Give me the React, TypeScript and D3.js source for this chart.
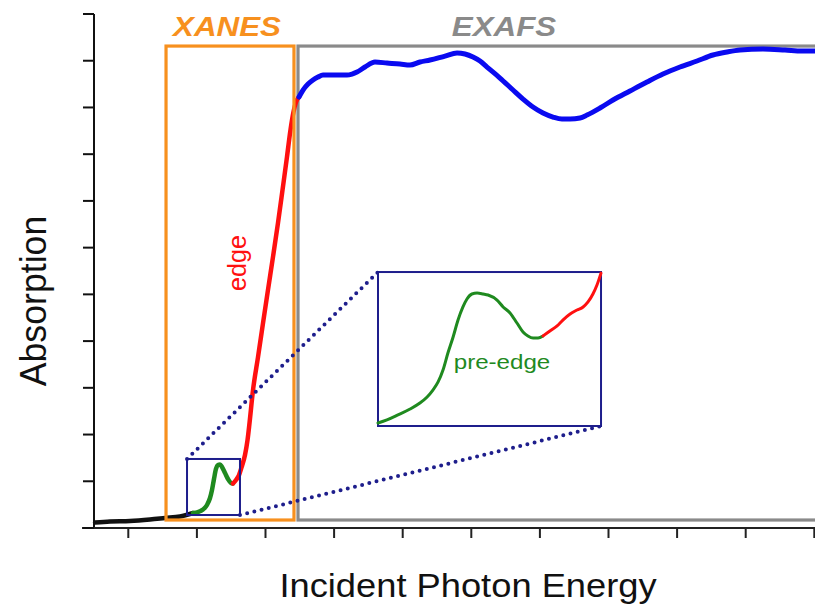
import React from "react";
import * as d3 from "d3";

// ---------- data (arbitrary units) ----------
const xTicks = [0.5, 1.5, 2.5, 3.5, 4.5, 5.5, 6.5, 7.5, 8.5, 9.5, 10.5];
const yTicks = [0, 1, 2, 3, 4, 5, 6, 7, 8, 9, 10, 11];

// pre-edge baseline (black)
const baseX = [0.015, 0.233, 0.525, 0.816, 1.035, 1.254, 1.443];
const baseY = [0.118, 0.139, 0.15, 0.182, 0.214, 0.246, 0.321];

// pre-edge peak (green)
const preX = [1.443, 1.516, 1.589, 1.647, 1.691, 1.72, 1.749, 1.778, 1.808, 1.837, 1.866, 1.91, 1.953, 1.997, 2.026];
const preY = [0.321, 0.342, 0.396, 0.492, 0.642, 0.813, 1.049, 1.263, 1.348, 1.359, 1.305, 1.177, 1.049, 0.963, 0.952];

// absorption edge (red)
const edgeX = [2.026, 2.07, 2.114, 2.157, 2.201, 2.238, 2.267, 2.318, 2.391, 2.464, 2.536, 2.609, 2.682, 2.748, 2.813, 2.864, 2.908, 2.945, 2.988];
const edgeY = [0.952, 1.027, 1.134, 1.327, 1.562, 1.883, 2.247, 2.953, 3.659, 4.387, 5.093, 5.799, 6.527, 7.233, 7.939, 8.517, 8.902, 9.116, 9.223];

// EXAFS oscillations (blue)
const exafsX = [2.988, 3.047, 3.12, 3.192, 3.265, 3.338, 3.513, 3.688, 3.761, 3.834, 3.95, 4.096, 4.271, 4.461, 4.606, 4.752, 4.898, 5.117, 5.292, 5.408, 5.525, 5.627, 5.729, 5.918, 6.108, 6.254, 6.399, 6.545, 6.691, 6.822, 6.939, 7.085, 7.187, 7.376, 7.566, 7.813, 8.061, 8.294, 8.542, 8.79, 9.023, 9.227, 9.417, 9.752, 10.073, 10.321, 10.51];
const exafsY = [9.223, 9.373, 9.501, 9.587, 9.651, 9.694, 9.694, 9.694, 9.715, 9.758, 9.865, 9.972, 9.951, 9.929, 9.908, 9.972, 10.015, 10.1, 10.165, 10.143, 10.079, 9.994, 9.865, 9.63, 9.373, 9.18, 9.009, 8.881, 8.795, 8.752, 8.752, 8.774, 8.838, 8.988, 9.159, 9.352, 9.544, 9.715, 9.865, 9.994, 10.122, 10.186, 10.229, 10.25, 10.229, 10.208, 10.208];

// inset (magnified pre-edge), same units
const insetGreenX = [1.356, 1.387, 1.425, 1.467, 1.501, 1.526, 1.546, 1.564, 1.581, 1.598, 1.616, 1.633, 1.65, 1.664, 1.681, 1.699, 1.72, 1.737, 1.768, 1.789, 1.813, 1.837, 1.858, 1.875, 1.893, 1.91, 1.927];
const insetGreenY = [0.301, 0.325, 0.364, 0.41, 0.457, 0.504, 0.558, 0.621, 0.714, 0.846, 0.971, 1.103, 1.205, 1.267, 1.306, 1.313, 1.306, 1.298, 1.259, 1.205, 1.158, 1.08, 1.01, 0.979, 0.963, 0.963, 0.979];
const insetRedX = [1.927, 1.951, 1.976, 1.996, 2.021, 2.045, 2.066, 2.083, 2.1, 2.114, 2.128];
const insetRedY = [0.979, 1.018, 1.057, 1.103, 1.15, 1.181, 1.205, 1.244, 1.306, 1.376, 1.469];

// region boxes [x0, x1, y0, y1]
const xanesBox = [1.05, 2.915, 0.171, 10.314];
const exafsBox = [2.974, 10.7, 0.171, 10.314];
const zoomBox = [1.356, 2.128, 0.278, 1.477];
const insetBox = [4.14, 7.391, 2.183, 5.478];

const labels = { xanes: "XANES", exafs: "EXAFS", edge: "edge", preEdge: "pre-edge", yTitle: "Absorption", xTitle: "Incident Photon Energy" };

// ---------- styles ----------
const W = 815, H = 605;
const FONT = "'Liberation Sans', Arial, Helvetica, sans-serif";
const C = { orange: "#f7901e", gray: "#8a8a8a", navy: "#1e1e8c", green: "#1f8a1f", red: "#ff1010", blue: "#0a0af0", black: "#111" };

export default function App() {
  const x = d3.scaleLinear().domain([0, 10.5]).range([94, 814.3]);
  const y = d3.scaleLinear().domain([0, 11]).range([528, 14]);

  const line = (xs: number[], ys: number[], sx = x, sy = y) =>
    d3.line<number>().x((_, i) => sx(xs[i])).y((_, i) => sy(ys[i])).curve(d3.curveMonotoneX)(xs.map((v) => v)) || "";

  // inset scales: map zoom box domain to inset box in pixels
  const ix = d3.scaleLinear().domain([zoomBox[0], zoomBox[1]]).range([x(insetBox[0]), x(insetBox[1])]);
  const iy = d3.scaleLinear().domain([zoomBox[2], zoomBox[3]]).range([y(insetBox[2]), y(insetBox[3])]);

  const rect = (b: number[], stroke: string, sw: number) => (
    <rect x={x(b[0])} y={y(b[3])} width={x(b[1]) - x(b[0])} height={y(b[2]) - y(b[3])} fill="none" stroke={stroke} strokeWidth={sw} />
  );

  return (
    <svg width={W} height={H} style={{ position: "absolute", left: 0, top: 0, background: "#fff" }} fontFamily={FONT}>
      {/* axes */}
      <line x1={x(0)} x2={x(0)} y1={y(11)} y2={y(0)} stroke="#111" strokeWidth={2} />
      <line x1={82} x2={W} y1={y(0)} y2={y(0)} stroke="#222" strokeWidth={2.2} />
      {yTicks.map((t) => (
        <line key={"yt" + t} x1={x(0) - 11} x2={x(0)} y1={y(t)} y2={y(t)} stroke="#111" strokeWidth={2} />
      ))}
      {xTicks.map((t) => (
        <line key={"xt" + t} x1={x(t)} x2={x(t)} y1={y(0)} y2={y(0) + 10} stroke="#222" strokeWidth={2} />
      ))}

      {/* region boxes */}
      {rect(exafsBox, C.gray, 3.2)}
      {/* curves */}
      <path d={line(baseX, baseY)} fill="none" stroke={C.black} strokeWidth={4.5} strokeLinecap="round" />
      <path d={line(preX, preY)} fill="none" stroke={C.green} strokeWidth={4.5} strokeLinecap="round" />
      <path d={line(edgeX, edgeY)} fill="none" stroke={C.red} strokeWidth={4.5} strokeLinecap="round" />
      <path d={line(exafsX, exafsY)} fill="none" stroke={C.blue} strokeWidth={5} strokeLinecap="round" />
      {rect(xanesBox, C.orange, 3.2)}

      {/* zoom box and connectors */}
      {rect(zoomBox, C.navy, 2)}
      <line x1={x(zoomBox[0])} y1={y(zoomBox[3])} x2={x(insetBox[0])} y2={y(insetBox[3])} stroke={C.navy} strokeWidth={4} strokeDasharray="0 7.4" strokeLinecap="round" />
      <line x1={x(zoomBox[1])} y1={y(zoomBox[2])} x2={x(insetBox[1])} y2={y(insetBox[2])} stroke={C.navy} strokeWidth={4} strokeDasharray="0 7.4" strokeLinecap="round" />

      {/* inset */}
      <rect x={x(insetBox[0])} y={y(insetBox[3])} width={x(insetBox[1]) - x(insetBox[0])} height={y(insetBox[2]) - y(insetBox[3])} fill="#fff" stroke={C.navy} strokeWidth={2} />
      <path d={line(insetGreenX, insetGreenY, ix, iy)} fill="none" stroke={C.green} strokeWidth={3} strokeLinecap="round" />
      <path d={line(insetRedX, insetRedY, ix, iy)} fill="none" stroke={C.red} strokeWidth={3} strokeLinecap="round" />

      {/* labels */}
      <text transform={`translate(227,36) scale(1.12,1)`} textAnchor="middle" fontSize={28} fontWeight="bold" fontStyle="italic" fill={C.orange}>{labels.xanes}</text>
      <text transform={`translate(504,36) scale(1.12,1)`} textAnchor="middle" fontSize={28} fontWeight="bold" fontStyle="italic" fill={C.gray}>{labels.exafs}</text>
      <text transform={`translate(246,263) rotate(-90) scale(1.05,1.1)`} textAnchor="middle" fontSize={24} fill={C.red}>{labels.edge}</text>
      <text transform={`translate(502,369) scale(1.15,1)`} textAnchor="middle" fontSize={21} fill={C.green}>{labels.preEdge}</text>
      <text transform={`translate(46,301) rotate(-90) scale(1.02,1.08)`} textAnchor="middle" fontSize={35} fill="#111">{labels.yTitle}</text>
      <text transform={`translate(468,597) scale(1.1,1)`} textAnchor="middle" fontSize={33} fill="#111">{labels.xTitle}</text>
    </svg>
  );
}
